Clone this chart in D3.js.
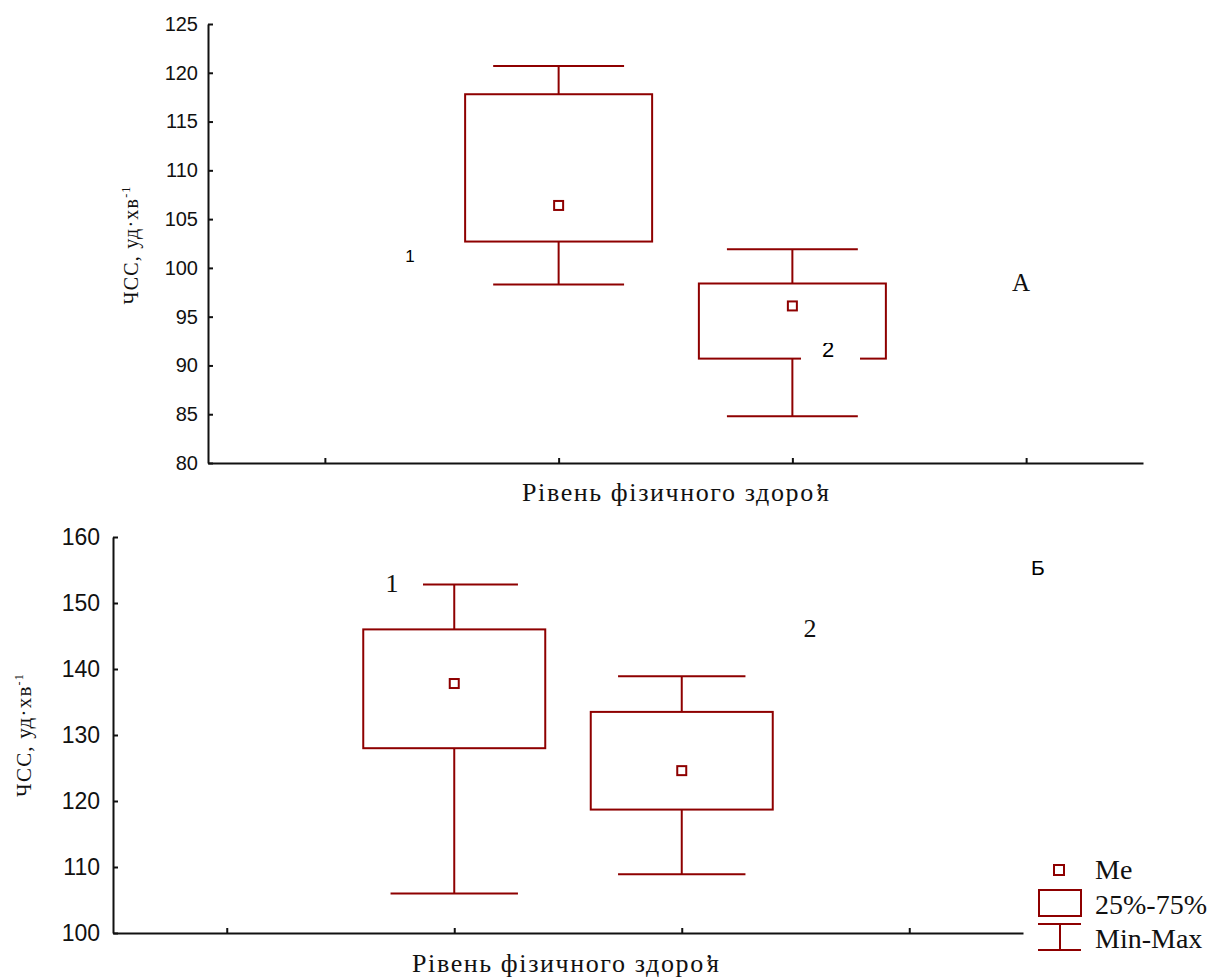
<!DOCTYPE html>
<html lang="uk">
<head>
  <meta charset="UTF-8">
  <title>ЧСС box plots</title>
  <script src="https://d3js.org/d3.v7.min.js"></script>
  <style>
    body { margin: 0; background: #fff; }
    .axis path, .axis line { stroke: #111; stroke-width: 2; }
    .axis text { fill: #111; font-family: "Liberation Sans", Arial, sans-serif; }
    .serif { font-family: "Liberation Serif", "Times New Roman", serif; fill: #111; }
  </style>
</head>
<body>
  <script>
    // group positions on the x axis (1..4), only 2 and 3 hold data
    const groups = ["1", "2"];
    const groupPos = [2, 3];
    const xTicks = [1, 2, 3, 4];

    // panel A: ЧСС at rest
    const aMin = [98.3, 84.8];
    const aQ1 = [102.7, 90.7];
    const aMed = [106.4, 96.1];
    const aQ3 = [117.8, 98.4];
    const aMax = [120.7, 101.9];
    const aTicks = [80, 85, 90, 95, 100, 105, 110, 115, 120, 125];

    // panel Б: ЧСС after load
    const bMin = [106.0, 108.9];
    const bQ1 = [128.0, 118.7];
    const bMed = [137.8, 124.6];
    const bQ3 = [146.0, 133.5];
    const bMax = [152.8, 138.9];
    const bTicks = [100, 110, 120, 130, 140, 150, 160];

    const legendItems = ["Me", "25%-75%", "Min-Max"];
    const xTitle = "Рівень фізичного здоро’я";
    const yTitle = "ЧСС, уд·хв";

    const red = "#8e0000";
    const width = 1216, height = 980;

    const svg = d3.select("body").append("svg")
      .attr("width", width)
      .attr("height", height);

    function panel(opt) {
      const x = d3.scaleLinear().domain([0.5, 4.5]).range(opt.xr);
      const y = d3.scaleLinear().domain(opt.yd).range(opt.yr);
      const g = svg.append("g");

      // axes
      g.append("g").attr("class", "axis")
        .attr("transform", `translate(0,${opt.yr[0]})`)
        .call(d3.axisBottom(x).tickValues(xTicks).tickSizeInner(-5).tickSizeOuter(0).tickFormat(""));
      g.append("g").attr("class", "axis")
        .attr("transform", `translate(${opt.xr[0]},0)`)
        .call(d3.axisLeft(y).tickValues(opt.ticks).tickSizeInner(-5).tickSizeOuter(0).tickPadding(opt.pad))
        .selectAll("text").style("font-size", opt.tickFont + "px");

      const data = groupPos.map((p, i) => ({
        p, min: opt.min[i], q1: opt.q1[i], med: opt.med[i], q3: opt.q3[i], max: opt.max[i]
      }));
      const bw = x(0.9) - x(0.5);   // half box width
      const cw = x(0.78) - x(0.5);  // half cap width

      const box = g.selectAll(".box").data(data).enter().append("g")
        .attr("stroke", red).attr("stroke-width", 2).attr("fill", "none");
      box.append("line")
        .attr("x1", d => x(d.p)).attr("x2", d => x(d.p))
        .attr("y1", d => y(d.max)).attr("y2", d => y(d.q3));
      box.append("line")
        .attr("x1", d => x(d.p)).attr("x2", d => x(d.p))
        .attr("y1", d => y(d.q1)).attr("y2", d => y(d.min));
      box.append("line")
        .attr("x1", d => x(d.p) - cw).attr("x2", d => x(d.p) + cw)
        .attr("y1", d => y(d.max)).attr("y2", d => y(d.max));
      box.append("line")
        .attr("x1", d => x(d.p) - cw).attr("x2", d => x(d.p) + cw)
        .attr("y1", d => y(d.min)).attr("y2", d => y(d.min));
      box.append("rect")
        .attr("x", d => x(d.p) - bw).attr("width", 2 * bw)
        .attr("y", d => y(d.q3)).attr("height", d => y(d.q1) - y(d.q3));
      box.append("rect")
        .attr("fill", "#fff")
        .attr("x", d => x(d.p) - 4.5).attr("y", d => y(d.med) - 4.5)
        .attr("width", 9).attr("height", 9);

      return { g, x, y };
    }

    // x title: the apostrophe sits over the "я", as in the source figure
    function xLabel(g, x, y) {
      const dx = xTitle.split("").map((c, i) => (i === xTitle.length - 1 ? -8 : 0));
      g.append("text").attr("class", "serif")
        .attr("x", x).attr("y", y).attr("dx", dx.join(" "))
        .style("font-size", "26px").style("letter-spacing", "1.6px")
        .text(xTitle);
    }

    function yLabel(g, x, y, size) {
      g.append("text").attr("class", "serif")
        .attr("transform", `translate(${x},${y}) rotate(-90)`)
        .attr("text-anchor", "middle")
        .style("font-size", size + "px").style("letter-spacing", "1.2px")
        .html(yTitle + "<tspan dy='-8' font-size='12'>-1</tspan>");
    }

    // ---- panel A ----
    const A = panel({
      xr: [208, 1143], yr: [463, 24], yd: [80, 125], ticks: aTicks, pad: 10, tickFont: 20,
      min: aMin, q1: aQ1, med: aMed, q3: aQ3, max: aMax
    });
    A.g.append("text").attr("x", 410).attr("y", 262)
      .attr("text-anchor", "middle")
      .style("font", "17px 'Liberation Sans', Arial, sans-serif")
      .text(groups[0]);
    // label "2" sits in a white box over the lower edge of box 2
    A.g.append("clipPath").attr("id", "clip2")
      .append("rect").attr("x", 801).attr("y", 343).attr("width", 59).attr("height", 22);
    A.g.append("rect").attr("x", 801).attr("y", 343).attr("width", 59).attr("height", 22).attr("fill", "#fff");
    A.g.append("text").attr("x", 828).attr("y", 357)
      .attr("text-anchor", "middle").attr("clip-path", "url(#clip2)")
      .style("font", "22px 'Liberation Sans', Arial, sans-serif")
      .text(groups[1]);
    A.g.append("text").attr("class", "serif")
      .attr("x", 1021).attr("y", 291).attr("text-anchor", "middle")
      .style("font-size", "25px").text("A");
    yLabel(A.g, 138, 245, 20);
    xLabel(A.g, 522, 501);

    // ---- panel Б ----
    const B = panel({
      xr: [113, 1023], yr: [933, 537], yd: [100, 160], ticks: bTicks, pad: 13, tickFont: 23,
      min: bMin, q1: bQ1, med: bMed, q3: bQ3, max: bMax
    });
    // label "1" has a white box that hides the left end of the max cap
    B.g.append("rect").attr("x", 376).attr("y", 568).attr("width", 47).attr("height", 30).attr("fill", "#fff");
    B.g.append("text").attr("class", "serif")
      .attr("x", 392).attr("y", 592).attr("text-anchor", "middle")
      .style("font-size", "26px").text(groups[0]);
    B.g.append("text").attr("class", "serif")
      .attr("x", 810).attr("y", 637).attr("text-anchor", "middle")
      .style("font-size", "26px").text(groups[1]);
    B.g.append("text")
      .attr("x", 1038).attr("y", 575).attr("text-anchor", "middle")
      .style("font", "21px 'Liberation Sans', Arial, sans-serif").text("Б");
    yLabel(B.g, 31, 735, 21);
    xLabel(B.g, 412, 972);

    // ---- legend ----
    const lg = svg.append("g").attr("stroke", red).attr("stroke-width", 2).attr("fill", "none");
    lg.append("rect").attr("x", 1054).attr("y", 865).attr("width", 10).attr("height", 10).attr("fill", "#fff");
    lg.append("rect").attr("x", 1039).attr("y", 890).attr("width", 42).attr("height", 26);
    lg.append("line").attr("x1", 1038).attr("x2", 1081).attr("y1", 924).attr("y2", 924);
    lg.append("line").attr("x1", 1038).attr("x2", 1081).attr("y1", 950).attr("y2", 950);
    lg.append("line").attr("x1", 1060).attr("x2", 1060).attr("y1", 924).attr("y2", 950);
    svg.selectAll(".leg").data(legendItems).enter().append("text")
      .attr("class", "serif")
      .attr("x", 1095).attr("y", (d, i) => 879 + i * 34.5)
      .style("font-size", "28px")
      .text(d => d);
  </script>
</body>
</html>
